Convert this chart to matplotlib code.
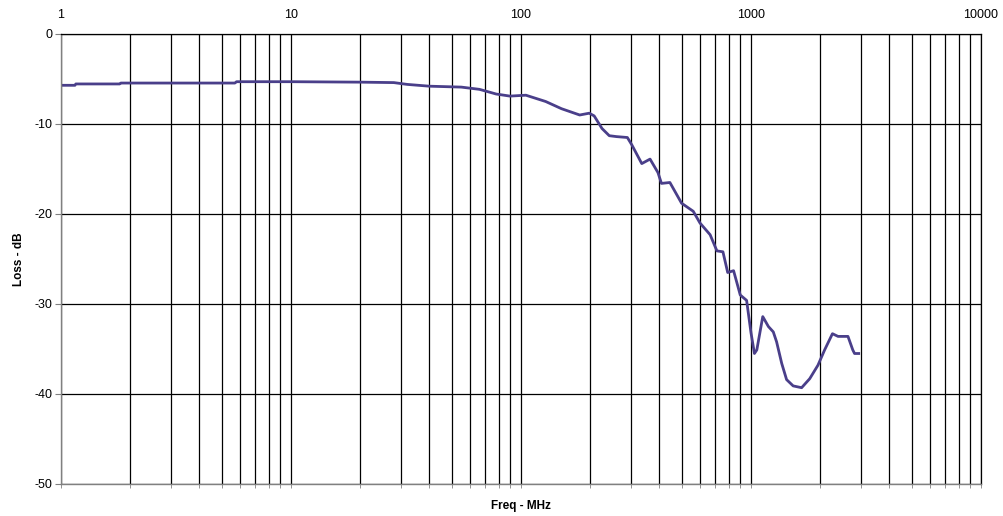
import matplotlib
matplotlib.use("Agg")
import matplotlib.pyplot as plt
from matplotlib.ticker import FixedLocator, NullFormatter

freq_mhz = [1.0, 1.15, 1.16, 1.8, 1.82, 5.7, 5.8, 10, 20, 28, 32, 40, 55, 66, 78, 89.5,
            105, 128, 150, 180, 198, 208, 225, 242, 260, 290, 303, 335, 364, 394, 408, 444,
            499, 561, 600, 664, 711, 755, 792, 840, 898, 957, 1000, 1035, 1060, 1125, 1190,
            1250, 1292, 1360, 1428, 1525, 1660, 1800, 1955, 2090, 2260, 2390, 2640, 2770,
            2820, 2940]
loss_db = [-5.7, -5.7, -5.55, -5.55, -5.45, -5.45, -5.3, -5.3, -5.35, -5.4, -5.6, -5.8, -5.9,
           -6.15, -6.67, -6.9, -6.8, -7.5, -8.3, -9.0, -8.8, -9.1, -10.5, -11.3, -11.4,
           -11.5, -12.3, -14.4, -13.9, -15.4, -16.6, -16.5, -18.8, -19.7, -21.0, -22.3, -24.1,
           -24.2, -26.5, -26.3, -29.0, -29.6, -33.2, -35.5, -35.1, -31.4, -32.5, -33.1, -34.2,
           -36.6, -38.4, -39.1, -39.3, -38.3, -36.8, -35.1, -33.3, -33.6, -33.6, -35.1,
           -35.5, -35.5]

x_major = [1, 10, 100, 1000, 10000]
x_major_labels = ["1", "10", "100", "1000", "10000"]
y_ticks = [0, -10, -20, -30, -40, -50]

plt.rcParams['font.family'] = ['Liberation Sans', 'DejaVu Sans']
fig = plt.figure(figsize=(10.04, 5.16), dpi=100)
ax = fig.add_axes([61/1004, 1-484/516, 920/1004, 450/516])

ax.plot(freq_mhz, loss_db, color='#4a3f8a', linewidth=2.0, solid_joinstyle='round')
ax.set_xscale('log')
ax.set_xlim(1, 10000)
ax.set_ylim(-50, 0)

minor = [m * d for d in [1, 10, 100, 1000] for m in range(2, 10)]
ax.xaxis.set_major_locator(FixedLocator(x_major))
ax.xaxis.set_minor_locator(FixedLocator(minor))
ax.xaxis.set_minor_formatter(NullFormatter())
ax.set_xticklabels(x_major_labels)
ax.set_yticks(y_ticks)
ax.set_yticklabels([str(v) for v in y_ticks])

ax.tick_params(axis='x', which='both', top=False, bottom=True, labeltop=True,
               labelbottom=False, direction='out', length=3, width=0.6,
               color='#808080', labelsize=9, pad=6)
ax.tick_params(axis='y', which='both', left=True, direction='out', length=4,
               width=0.8, color='#808080', labelsize=9, pad=2)

ax.grid(True, which='both', axis='x', color='black', linewidth=0.9)
ax.grid(True, which='major', axis='y', color='black', linewidth=0.9)
ax.set_axisbelow(True)
for s in ['top', 'right']:
    ax.spines[s].set_color('black')
    ax.spines[s].set_linewidth(0.9)
for s in ['left', 'bottom']:
    ax.spines[s].set_color('#808080')
    ax.spines[s].set_linewidth(1.0)

ax.set_xlabel('Freq - MHz', fontsize=8.5, fontweight='bold', labelpad=8.5)
ax.xaxis.set_label_position('bottom')
ax.set_ylabel('Loss - dB', fontsize=8.5, fontweight='bold', labelpad=7)

fig.savefig('out.png', dpi=100)
